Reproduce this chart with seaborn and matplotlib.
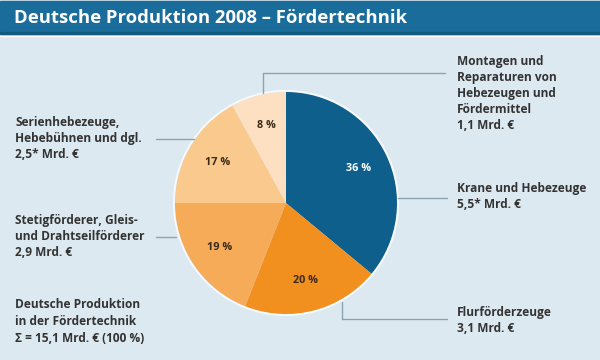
import matplotlib
matplotlib.use("Agg")
import matplotlib.pyplot as plt
import seaborn as sns
import numpy as np
from matplotlib.patches import Rectangle

sns.set_theme(style="white")
plt.rcParams['font.family'] = ['Open Sans', 'DejaVu Sans']

title = "Deutsche Produktion 2008 – Fördertechnik"
shares = [36, 20, 19, 17, 8]
pct_labels = ["36 %", "20 %", "19 %", "17 %", "8 %"]
slice_colors = ["#0f5f8d", "#f1901f", "#f5ab58", "#f9c98e", "#fde0c2"]
pct_colors = ["white", "#3b2a18", "#3b2a18", "#3b2a18", "#3b2a18"]
categories = [
    "Krane und Hebezeuge\n5,5* Mrd. €",
    "Flurförderzeuge\n3,1 Mrd. €",
    "Stetigförderer, Gleis-\nund Drahtseilförderer\n2,9 Mrd. €",
    "Serienhebezeuge,\nHebebühnen und dgl.\n2,5* Mrd. €",
    "Montagen und\nReparaturen von\nHebezeugen und\nFördermittel\n1,1 Mrd. €",
]
total_note = "Deutsche Produktion\nin der Fördertechnik\nΣ = 15,1 Mrd. € (100 %)"

W, H = 600, 360
fig = plt.figure(figsize=(6, 3.6), dpi=100)
fig.patch.set_facecolor("#dde9f0")
ax = fig.add_axes([0, 0, 1, 1])
ax.set_facecolor("#dde9f0")

def Y(y):
    return H - y

cx, cy, r = 286, 203, 111
wedges, _ = ax.pie(shares, startangle=90, counterclock=False, colors=slice_colors,
                   center=(cx, Y(cy)), radius=r, frame=True,
                   wedgeprops=dict(linewidth=0))
cum = np.cumsum([0] + shares)
for i, lab in enumerate(pct_labels):
    mid = 90 - 3.6 * (cum[i] + cum[i + 1]) / 2
    d = 0.72 * r
    ax.text(cx + d * np.cos(np.radians(mid)), Y(cy) + d * np.sin(np.radians(mid)), lab,
            ha="center", va="center", fontsize=7.8, fontweight="bold", color=pct_colors[i])
ax.add_patch(plt.Circle((cx, Y(cy)), r + 1.2, fill=False, ec="white", lw=1.2, alpha=0.8))

lc = "#8aa3b3"
lw = 1.0
ax.plot([263, 263, 445], [Y(93), Y(73), Y(73)], color=lc, lw=lw)
ax.plot([398, 447], [Y(198), Y(198)], color=lc, lw=lw)
ax.plot([342, 342, 447], [Y(302), Y(319), Y(319)], color=lc, lw=lw)
ax.plot([156, 194], [Y(139), Y(139)], color=lc, lw=lw)
ax.plot([156, 176], [Y(237), Y(237)], color=lc, lw=lw)

tc = "#333333"
fs = 8.6
ls = 1.3
ax.text(457, Y(55), categories[4], ha="left", va="top", fontsize=fs, fontweight="bold", color=tc, linespacing=ls)
ax.text(457, Y(182), categories[0], ha="left", va="top", fontsize=fs, fontweight="bold", color=tc, linespacing=ls)
ax.text(457, Y(306), categories[1], ha="left", va="top", fontsize=fs, fontweight="bold", color=tc, linespacing=ls)
ax.text(15, Y(116), categories[3], ha="left", va="top", fontsize=fs, fontweight="bold", color=tc, linespacing=ls)
ax.text(15, Y(214), categories[2], ha="left", va="top", fontsize=fs, fontweight="bold", color=tc, linespacing=ls)
ax.text(15, Y(298), total_note, ha="left", va="top", fontsize=fs, fontweight="bold", color=tc, linespacing=1.4)

ax.add_patch(Rectangle((0, Y(36)), W, 3, color="white", zorder=0.5))
ax.add_patch(Rectangle((0, Y(34)), W, 33, color="#1a6d9b", zorder=1))
ax.add_patch(Rectangle((0, Y(34)), W, 2, color="#135a82", zorder=1.1))
ax.text(14, Y(18), title, ha="left", va="center", fontsize=13.3, fontweight="bold", color="white", zorder=2)

ax.set_xlim(0, W)
ax.set_ylim(0, H)
ax.set_aspect("auto")
ax.axis("off")
fig.savefig("out.png", dpi=100, facecolor=fig.get_facecolor())
